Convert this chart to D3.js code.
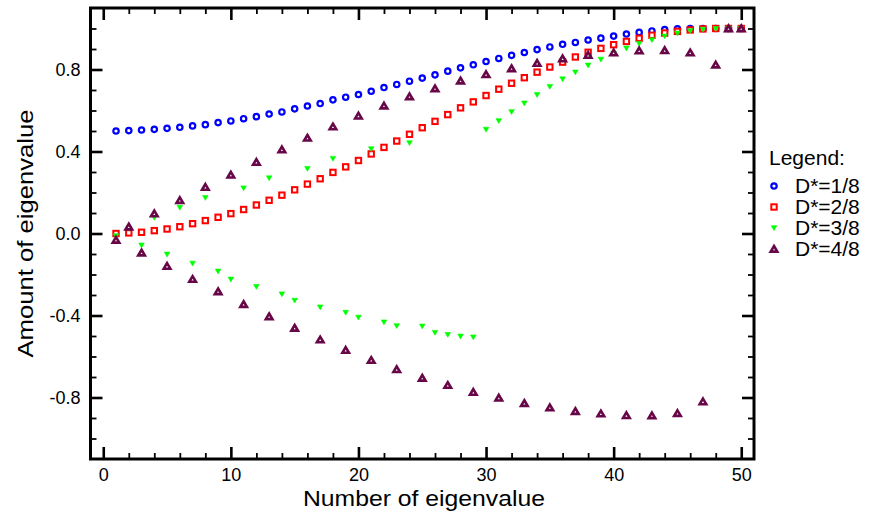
<!DOCTYPE html>
<html>
<head>
<meta charset="utf-8">
<script src="https://cdn.jsdelivr.net/npm/d3@7"></script>
<style>
  html, body { margin: 0; padding: 0; background: #fff; }
  svg { display: block; font-family: "Liberation Sans", Arial, Helvetica, sans-serif; }
</style>
</head>
<body>
<svg id="chart" width="876" height="514"></svg>
<script>
// Eigenvalue index (x) shared by all four series
const eigenIndex = [1,2,3,4,5,6,7,8,9,10,11,12,13,14,15,16,17,18,19,20,21,22,23,24,25,
                    26,27,28,29,30,31,32,33,34,35,36,37,38,39,40,41,42,43,44,45,46,47,48,49,50];

// Amount of each eigenvalue for the four D* settings
const valuesD1 = [0.500,0.502,0.505,0.508,0.513,0.518,0.525,0.531,0.541,0.549,
                  0.560,0.570,0.583,0.593,0.608,0.622,0.634,0.652,0.665,0.678,
                  0.694,0.712,0.727,0.743,0.758,0.774,0.792,0.808,0.823,0.839,
                  0.854,0.869,0.883,0.897,0.910,0.923,0.932,0.944,0.953,0.963,
                  0.973,0.981,0.988,0.995,0.998,1.000,1.000,1.000,1.000,1.000];
const valuesD2 = [0.000,0.003,0.006,0.014,0.022,0.033,0.048,0.063,0.079,0.097,
                  0.117,0.139,0.162,0.187,0.213,0.241,0.267,0.298,0.325,0.356,
                  0.388,0.420,0.451,0.484,0.516,0.547,0.580,0.613,0.642,0.673,
                  0.704,0.733,0.760,0.787,0.812,0.836,0.861,0.884,0.903,0.921,
                  0.937,0.952,0.967,0.978,0.986,0.993,0.998,1.000,1.000,1.000];
const valuesD3 = [-0.012,0.025,-0.058,0.077,-0.102,0.126,-0.146,0.174,-0.185,-0.224,
                  0.221,-0.260,0.270,-0.296,-0.327,0.316,-0.360,0.365,-0.386,-0.410,
                  0.412,-0.433,-0.451,0.441,-0.453,-0.484,-0.494,-0.502,-0.506,0.507,
                  0.549,0.593,0.635,0.676,0.716,0.753,0.786,0.820,0.849,0.877,
                  0.903,0.926,0.944,0.962,0.976,0.988,0.995,0.998,1.000,1.000];
const valuesD4 = [-0.032,0.033,-0.094,0.097,-0.159,0.162,-0.223,0.226,-0.283,0.286,
                  -0.345,0.348,-0.405,0.409,-0.461,0.466,-0.518,0.521,-0.569,0.574,
                  -0.618,0.623,-0.663,0.668,-0.705,0.707,-0.740,0.745,-0.774,0.776,
                  -0.802,0.805,-0.828,0.831,-0.849,0.853,-0.867,0.870,-0.879,0.882,
                  -0.887,0.892,-0.888,0.893,-0.877,0.882,-0.820,0.823,1.000,1.000];

const seriesNames = ["D*=1/8", "D*=2/8", "D*=3/8", "D*=4/8"];

// Axis ticks and labels
const xMajorTicks = [0, 10, 20, 30, 40, 50];
const xMinorTicks = [2,4,6,8,12,14,16,18,22,24,26,28,32,34,36,38,42,44,46,48];
const yMajorTicks = [-0.8, -0.4, 0.0, 0.4, 0.8];
const yMajorLabels = ["-0.8", "-0.4", "0.0", "0.4", "0.8"];
const yMinorTicks = [-1.0,-0.9,-0.7,-0.6,-0.5,-0.3,-0.2,-0.1,0.1,0.2,0.3,0.5,0.6,0.7,0.9,1.0];

const svg = d3.select("#chart");
const plotLeft = 90.5, plotRight = 754, plotTop = 8, plotBottom = 459;

const x = d3.scaleLinear().domain([-1, 51]).range([plotLeft, plotRight]);
const y = d3.scaleLinear().domain([-1.1, 1.1]).range([plotBottom, plotTop]);

// Marker styles per series
const styles = [
  { color: "#0000ff", shape: "circle" },
  { color: "#ff0000", shape: "square" },
  { color: "#00ff00", shape: "tridown" },
  { color: "#670748", shape: "triup" }
];

function drawMarker(g, shape, color) {
  if (shape === "circle") {
    g.append("circle").attr("r", 2.7).attr("fill", "#fff")
      .attr("stroke", color).attr("stroke-width", 2.2);
  } else if (shape === "square") {
    g.append("rect").attr("x", -2.7).attr("y", -2.7).attr("width", 5.4).attr("height", 5.4)
      .attr("fill", "#fff").attr("stroke", color).attr("stroke-width", 2);
  } else if (shape === "tridown") {
    g.append("path").attr("d", "M-2.8,-2.3L2.8,-2.3L0,2.5Z").attr("fill", color)
      .attr("stroke", color).attr("stroke-width", 0.6).attr("stroke-linejoin", "round");
  } else {
    g.append("path").attr("d", "M0,-3L3.3,2.6L-3.3,2.6Z").attr("fill", "#fff")
      .attr("stroke", color).attr("stroke-width", 2.6).attr("stroke-linejoin", "miter");
  }
}

// Data markers
const allSeries = [valuesD1, valuesD2, valuesD3, valuesD4];
allSeries.forEach((vals, si) => {
  const g = svg.append("g").attr("class", "series-" + si);
  eigenIndex.forEach((n, i) => {
    const m = g.append("g").attr("transform", `translate(${x(n)},${y(vals[i])})`);
    drawMarker(m, styles[si].shape, styles[si].color);
  });
});

// Axes: ticks point into the frame on every side
function styleAxis(sel, width) {
  sel.select(".domain").remove();
  sel.selectAll(".tick line").attr("stroke", "#000").attr("stroke-width", width);
  sel.selectAll(".tick text").attr("fill", "#000").style("font-size", "18px")
     .style("font-family", "'Liberation Sans', Arial, sans-serif");
}
const majorLen = 12, minorLen = 6;

svg.append("g").attr("transform", `translate(0,${plotBottom})`)
  .call(d3.axisBottom(x).tickValues(xMajorTicks).tickSize(-majorLen).tickPadding(9).tickFormat(d3.format("d")))
  .call(s => styleAxis(s, 2.6));
svg.append("g").attr("transform", `translate(0,${plotBottom})`)
  .call(d3.axisBottom(x).tickValues(xMinorTicks).tickSize(-minorLen).tickFormat(""))
  .call(s => styleAxis(s, 1.8));
svg.append("g").attr("transform", `translate(0,${plotTop})`)
  .call(d3.axisTop(x).tickValues(xMajorTicks).tickSize(-majorLen).tickFormat(""))
  .call(s => styleAxis(s, 2.6));
svg.append("g").attr("transform", `translate(0,${plotTop})`)
  .call(d3.axisTop(x).tickValues(xMinorTicks).tickSize(-minorLen).tickFormat(""))
  .call(s => styleAxis(s, 1.8));

svg.append("g").attr("transform", `translate(${plotLeft},0)`)
  .call(d3.axisLeft(y).tickValues(yMajorTicks).tickSize(-majorLen).tickPadding(10)
        .tickFormat((d, i) => yMajorLabels[i]))
  .call(s => styleAxis(s, 2.6));
svg.append("g").attr("transform", `translate(${plotLeft},0)`)
  .call(d3.axisLeft(y).tickValues(yMinorTicks).tickSize(-minorLen).tickFormat(""))
  .call(s => styleAxis(s, 1.8));
svg.append("g").attr("transform", `translate(${plotRight},0)`)
  .call(d3.axisRight(y).tickValues(yMajorTicks).tickSize(-majorLen).tickFormat(""))
  .call(s => styleAxis(s, 2.6));
svg.append("g").attr("transform", `translate(${plotRight},0)`)
  .call(d3.axisRight(y).tickValues(yMinorTicks).tickSize(-minorLen).tickFormat(""))
  .call(s => styleAxis(s, 1.8));

// Frame
svg.append("rect").attr("x", plotLeft).attr("y", plotTop)
  .attr("width", plotRight - plotLeft).attr("height", plotBottom - plotTop)
  .attr("fill", "none").attr("stroke", "#000").attr("stroke-width", 3);

// Axis titles
svg.append("text").attr("x", 424).attr("y", 506)
  .attr("text-anchor", "middle").style("font-size", "22px").attr("fill", "#000")
  .attr("textLength", 242).attr("lengthAdjust", "spacingAndGlyphs")
  .text("Number of eigenvalue");
svg.append("text")
  .attr("transform", `translate(33,${(plotTop + plotBottom) / 2}) rotate(-90)`)
  .attr("text-anchor", "middle").style("font-size", "22px").attr("fill", "#000")
  .attr("textLength", 248).attr("lengthAdjust", "spacingAndGlyphs")
  .text("Amount of eigenvalue");

// Legend
const legend = svg.append("g");
legend.append("text").attr("x", 769).attr("y", 165).style("font-size", "21px")
  .attr("fill", "#000").text("Legend:");
seriesNames.forEach((name, i) => {
  const cy = 186 + i * 21;
  const m = legend.append("g").attr("transform", `translate(774,${cy})`);
  drawMarker(m, styles[i].shape, styles[i].color);
  legend.append("text").attr("x", 795).attr("y", cy + 7).style("font-size", "21px")
    .attr("fill", "#000").text(name);
});
</script>
</body>
</html>
